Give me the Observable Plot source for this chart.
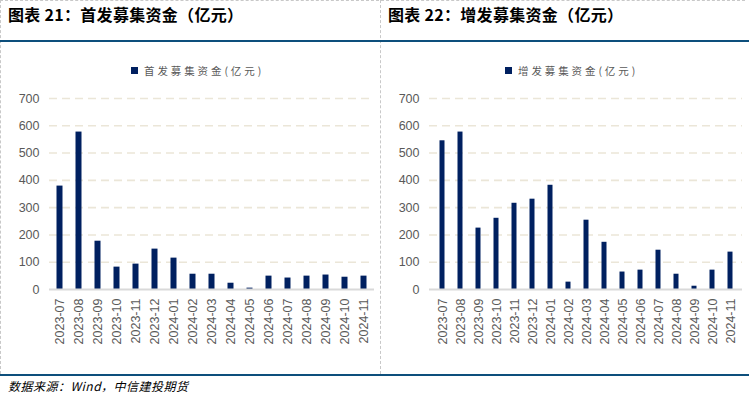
<!DOCTYPE html>
<html>
<head>
<meta charset="utf-8">
<script src="https://cdn.jsdelivr.net/npm/d3@7"></script>
<script src="https://cdn.jsdelivr.net/npm/@observablehq/plot@0.6"></script>
<style>
  html, body { margin: 0; padding: 0; background: #fff; }
  #page { position: relative; width: 749px; height: 396px; overflow: hidden; font-family: "Noto Sans CJK SC", "Liberation Sans", sans-serif; }
  .title { position: absolute; top: 2px; font-size: 16px; font-weight: bold; color: #000; white-space: nowrap; letter-spacing: 0.3px; }
  .hline { position: absolute; left: 0; width: 749px; height: 2px; background: #0d4f7c; }
  .dashv { position: absolute; width: 0; border-left: 1px dashed #c8c8c8; }
  .dashh { position: absolute; height: 0; border-top: 1px dashed #c8c8c8; }
  .legend { position: absolute; top: 63px; font-size: 10.5px; letter-spacing: 2.9px; color: #595959; white-space: nowrap; display: flex; align-items: center; }
  .legend .sw { display: inline-block; width: 7px; height: 7px; background: #002060; margin-right: 6px; }
  .panel { position: absolute; top: 45px; }
  .caption { position: absolute; left: 8px; top: 377px; font-size: 12px; letter-spacing: 0.5px; font-style: italic; color: #000; white-space: nowrap; }
  svg text { font-family: "Liberation Sans", Arial, sans-serif; }
</style>
</head>
<body>
<div id="page">
  <div class="dashh" style="left:0; top:0; width:745px;"></div>
  <div class="dashv" style="left:0; top:0; height:374px;"></div>
  <div class="dashv" style="left:380px; top:0; height:374px;"></div>
  <div class="title" style="left:8px;">图表 21：首发募集资金（亿元）</div>
  <div class="title" style="left:388px;">图表 22：增发募集资金（亿元）</div>
  <div class="hline" style="top:40px;"></div>
  <div class="legend" style="left:131px;"><span class="sw"></span>首发募集资金(亿元)</div>
  <div class="legend" style="left:505px;"><span class="sw"></span>增发募集资金(亿元)</div>
  <div class="panel" id="left" style="left:0;"></div>
  <div class="panel" id="right" style="left:380px;"></div>
  <div class="hline" style="top:374px;"></div>
  <div class="caption">数据来源：Wind，中信建投期货</div>
</div>
<script>
const months = ["2023-07","2023-08","2023-09","2023-10","2023-11","2023-12","2024-01","2024-02","2024-03","2024-04","2024-05","2024-06","2024-07","2024-08","2024-09","2024-10","2024-11"];
const ipoValues = [379, 577, 177, 82, 93, 148, 115, 56, 56, 23, 5, 49, 42, 49, 53, 45, 49];
const seoValues = [545, 577, 225, 261, 316, 331, 382, 27, 254, 173, 64, 71, 144, 56, 12, 71, 137];
const yTicks = [0, 100, 200, 300, 400, 500, 600, 700];
const gridTicks = [100, 200, 300, 400, 500, 600, 700];

function panel(values, width) {
  const data = months.map((m, i) => ({month: m, value: values[i]}));
  return Plot.plot({
    width: width,
    height: 320,
    marginTop: 53,
    marginBottom: 76,
    marginLeft: 49,
    marginRight: 4,
    style: {fontSize: "12.5px", color: "#595959", background: "transparent"},
    x: {domain: months, padding: 0, label: null, tickSize: 0, tickPadding: 9, tickRotate: -90},
    y: {domain: [0, 700], ticks: yTicks, label: null, tickSize: 0, tickPadding: 10},
    marks: [
      Plot.ruleY(gridTicks, {stroke: "#ebe6d8", strokeWidth: 1.6, strokeDasharray: "8,5"}),
      Plot.barY(data, {x: "month", y: "value", fill: "#002060", insetLeft: 6.5, insetRight: 6.5}),
      Plot.ruleY([0], {stroke: "#d9d9d9", strokeWidth: 2}),
      Plot.axisY({ticks: yTicks, tickSize: 0, tickPadding: 10, fill: "#595959", label: null}),
      Plot.axisX({tickSize: 0, tickPadding: 9, tickRotate: -90, fill: "#595959", label: null})
    ]
  });
}
document.getElementById("left").appendChild(panel(ipoValues, 378));
document.getElementById("right").appendChild(panel(seoValues, 366));
</script>
</body>
</html>
